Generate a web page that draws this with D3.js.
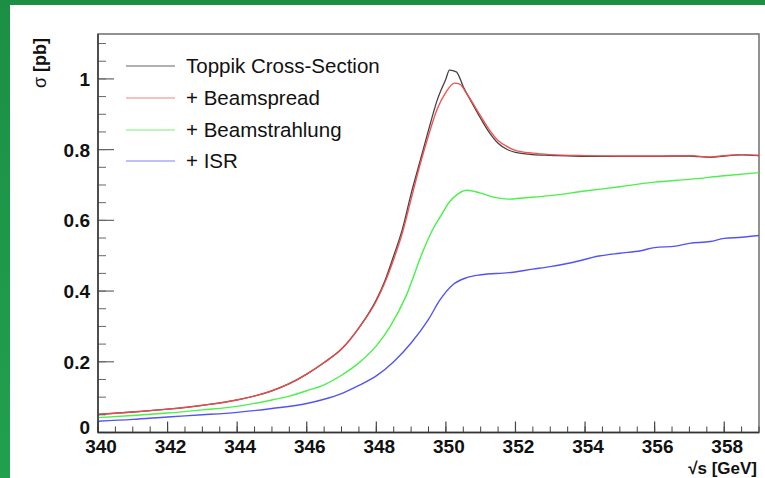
<!DOCTYPE html>
<html>
<head>
<meta charset="utf-8">
<script src="https://cdn.jsdelivr.net/npm/d3@7"></script>
<style>
  html, body { margin: 0; padding: 0; background: #fff; }
  svg { display: block; }
</style>
</head>
<body>
<svg id="chart" width="765" height="478"></svg>
<script>
// sqrt(s) scan points [GeV] and cross-sections [pb] for each curve
const toppikS = [340, 341, 342, 343, 344, 345, 345.5, 346, 346.5, 347, 347.5, 348, 348.25, 348.5, 348.75, 349, 349.25, 349.5, 349.75, 350, 350.1, 350.3, 350.5, 350.75, 351, 351.25, 351.5, 351.75, 352, 352.5, 353, 354, 355, 356, 357, 357.6, 358, 358.5, 359];
const toppikSigma = [0.051, 0.058, 0.066, 0.077, 0.092, 0.118, 0.138, 0.165, 0.198, 0.236, 0.296, 0.375, 0.43, 0.50, 0.575, 0.675, 0.765, 0.855, 0.94, 1.0, 1.025, 1.02, 0.978, 0.932, 0.888, 0.848, 0.818, 0.801, 0.792, 0.786, 0.784, 0.781, 0.781, 0.781, 0.782, 0.778, 0.782, 0.785, 0.783];

const spreadS = [340, 341, 342, 343, 344, 345, 345.5, 346, 346.5, 347, 347.5, 348, 348.25, 348.5, 348.75, 349, 349.25, 349.5, 349.75, 350, 350.25, 350.4, 350.6, 351, 351.25, 351.5, 351.75, 352, 352.5, 353, 354, 355, 356, 357, 357.6, 358, 358.5, 359];
const spreadSigma = [0.051, 0.058, 0.066, 0.077, 0.092, 0.118, 0.138, 0.165, 0.198, 0.236, 0.296, 0.372, 0.425, 0.49, 0.565, 0.66, 0.755, 0.84, 0.915, 0.962, 0.988, 0.985, 0.958, 0.895, 0.856, 0.826, 0.809, 0.798, 0.79, 0.786, 0.783, 0.782, 0.782, 0.783, 0.779, 0.783, 0.786, 0.784];

const strahlungS = [340, 341, 342, 343, 344, 345, 345.5, 346, 346.5, 347, 347.5, 348, 348.4, 348.85, 349.35, 349.6, 349.85, 350.1, 350.35, 350.6, 351, 351.4, 351.8, 352.3, 353, 354, 355, 356, 357, 358, 359];
const strahlungSigma = [0.042, 0.048, 0.055, 0.064, 0.074, 0.092, 0.103, 0.118, 0.135, 0.162, 0.197, 0.245, 0.30, 0.385, 0.515, 0.57, 0.612, 0.652, 0.675, 0.685, 0.677, 0.665, 0.66, 0.664, 0.67, 0.683, 0.695, 0.708, 0.716, 0.726, 0.735];

const isrS = [340, 341, 342, 343, 344, 345, 346, 346.5, 347, 347.5, 348, 348.5, 349, 349.5, 349.83, 350.2, 350.6, 351, 351.8, 352.5, 353, 353.6, 354.4, 355, 355.6, 356, 356.6, 357, 357.6, 358, 358.5, 359];
const isrSigma = [0.032, 0.037, 0.044, 0.050, 0.057, 0.068, 0.082, 0.094, 0.11, 0.133, 0.16, 0.2, 0.253, 0.32, 0.375, 0.418, 0.438, 0.446, 0.452, 0.462, 0.469, 0.48, 0.499, 0.507, 0.514, 0.523, 0.527, 0.535, 0.54, 0.549, 0.552, 0.557];

const seriesNames = ["Toppik Cross-Section", "+ Beamspread", "+ Beamstrahlung", "+ ISR"];
const seriesColors = ["#222222", "#f24a4a", "#3ff03f", "#4a4af5"];

const xTicks = [340, 342, 344, 346, 348, 350, 352, 354, 356, 358];
const yTicks = [0, 0.2, 0.4, 0.6, 0.8, 1];

const svg = d3.select("#chart");
const W = 765, H = 478;

// slide background: green band on top and left
const grad = svg.append("defs").append("linearGradient")
  .attr("id", "bgGreen").attr("x1", 0).attr("y1", 0).attr("x2", 0).attr("y2", 1);
grad.append("stop").attr("offset", "0%").attr("stop-color", "#1c8f45");
grad.append("stop").attr("offset", "100%").attr("stop-color", "#22a04e");
svg.append("rect").attr("x", 0).attr("y", 0).attr("width", W).attr("height", H).attr("fill", "url(#bgGreen)");
svg.append("rect").attr("x", 10).attr("y", 5).attr("width", W - 10).attr("height", H - 5).attr("fill", "#ffffff");

const plot = { left: 98, right: 759, top: 34, bottom: 432.5 };

const x = d3.scaleLinear().domain([340, 359]).range([plot.left, plot.right]);
const y = d3.scaleLinear().domain([0, 1.127]).range([plot.bottom, plot.top]);

// frame
svg.append("rect")
  .attr("x", plot.left).attr("y", plot.top)
  .attr("width", plot.right - plot.left).attr("height", plot.bottom - plot.top)
  .attr("fill", "none").attr("stroke", "#777").attr("stroke-width", 1.6);

// curves
const line = d3.line().x(d => x(d[0])).y(d => y(d[1])).curve(d3.curveMonotoneX);
const curves = [
  [isrS, isrSigma, 3],
  [strahlungS, strahlungSigma, 2],
  [toppikS, toppikSigma, 0],
  [spreadS, spreadSigma, 1]
];
const clip = svg.append("defs").append("clipPath").attr("id", "plotClip");
clip.append("rect").attr("x", plot.left).attr("y", plot.top)
  .attr("width", plot.right - plot.left).attr("height", plot.bottom - plot.top);
const curveG = svg.append("g").attr("clip-path", "url(#plotClip)");
curves.forEach(([s, v, i]) => {
  curveG.append("path")
    .datum(s.map((sv, k) => [sv, v[k]]))
    .attr("d", line)
    .attr("fill", "none")
    .attr("stroke", seriesColors[i])
    .attr("stroke-width", i === 0 ? 1.3 : 1.4)
    .attr("stroke-opacity", i === 0 ? 0.85 : 0.95)
    .attr("stroke-linejoin", "round");
});

// y axis ticks (drawn inward)
const yMinor = d3.range(0, 1.127, 0.05);
svg.append("g").selectAll("line").data(yMinor).join("line")
  .attr("x1", plot.left).attr("x2", plot.left + 8)
  .attr("y1", d => y(d)).attr("y2", d => y(d))
  .attr("stroke", "#666").attr("stroke-width", 1);
svg.append("g").selectAll("line").data(yTicks).join("line")
  .attr("x1", plot.left).attr("x2", plot.left + 16)
  .attr("y1", d => y(d)).attr("y2", d => y(d))
  .attr("stroke", "#666").attr("stroke-width", 1.2);

// x axis ticks (drawn inward)
const xMinor = d3.range(340, 359.01, 0.5);
svg.append("g").selectAll("line").data(xMinor).join("line")
  .attr("x1", d => x(d)).attr("x2", d => x(d))
  .attr("y1", plot.bottom).attr("y2", plot.bottom - 6)
  .attr("stroke", "#444").attr("stroke-width", 1);
svg.append("g").selectAll("line").data(xTicks).join("line")
  .attr("x1", d => x(d)).attr("x2", d => x(d))
  .attr("y1", plot.bottom).attr("y2", plot.bottom - 11)
  .attr("stroke", "#444").attr("stroke-width", 1.2);

// axis lines
svg.append("line").attr("x1", plot.left).attr("x2", plot.left)
  .attr("y1", plot.top).attr("y2", plot.bottom).attr("stroke", "#333").attr("stroke-width", 1.4);
svg.append("line").attr("x1", plot.left).attr("x2", plot.right)
  .attr("y1", plot.bottom).attr("y2", plot.bottom).attr("stroke", "#333").attr("stroke-width", 1.4);

const font = "'Liberation Sans', Arial, Helvetica, sans-serif";

// tick labels
svg.append("g").selectAll("text").data(yTicks).join("text")
  .attr("x", plot.left - 8).attr("y", d => y(d) + (d === 0 ? 1 : 7))
  .attr("text-anchor", "end")
  .attr("font-family", font).attr("font-weight", "bold").attr("font-size", 19)
  .attr("fill", "#111")
  .text(d => d === 0 ? "0" : d3.format("~g")(d));

svg.append("g").selectAll("text").data(xTicks).join("text")
  .attr("x", d => x(d) + 3).attr("y", plot.bottom + 20)
  .attr("text-anchor", "middle")
  .attr("font-family", font).attr("font-weight", "bold").attr("font-size", 19)
  .attr("fill", "#111")
  .text(d => d);

// axis titles
const yTitle = svg.append("text")
  .attr("transform", `translate(46, 38) rotate(-90)`)
  .attr("text-anchor", "end")
  .attr("font-family", font).attr("font-size", 18).attr("fill", "#111");
yTitle.append("tspan").text("σ ");
yTitle.append("tspan").attr("font-weight", "bold").text("[pb]");

svg.append("text")
  .attr("x", 757).attr("y", 474)
  .attr("text-anchor", "end")
  .attr("font-family", font).attr("font-weight", "bold").attr("font-size", 17)
  .attr("fill", "#111")
  .text("√s [GeV]");

// legend
const legend = svg.append("g");
seriesNames.forEach((name, i) => {
  const ly = [66, 98, 130, 161][i];
  legend.append("line")
    .attr("x1", 126).attr("x2", 175).attr("y1", ly).attr("y2", ly)
    .attr("stroke", seriesColors[i]).attr("stroke-width", 1.2).attr("stroke-opacity", 0.7);
  legend.append("text")
    .attr("x", 186).attr("y", ly + 7)
    .attr("font-family", font).attr("font-size", 20.5).attr("fill", "#111")
    .text(name);
});
</script>
</body>
</html>
